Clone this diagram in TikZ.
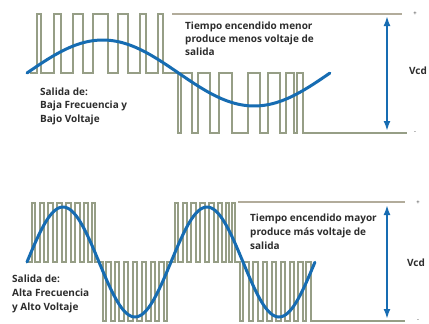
\documentclass[tikz,border=0pt]{standalone}
\usepackage{fontspec}
\setmainfont{Open Sans}
\usetikzlibrary{arrows.meta}
\definecolor{pwm}{RGB}{150,158,134}
\definecolor{rail}{RGB}{178,172,155}
\definecolor{wave}{RGB}{22,108,178}
\definecolor{txt}{RGB}{45,45,45}
\begin{document}
\begin{tikzpicture}[x=1pt,y=-1pt,
  pwmline/.style={draw=pwm, line width=1.4pt, line join=miter},
  railline/.style={draw=rail, line width=1.4pt},
  sine/.style={draw=wave, line width=3pt, line cap=round},
  vcdarrow/.style={draw=wave, line width=2pt, {Latex[length=10pt,width=7pt]}-{Latex[length=10pt,width=7pt]}},
  lbl/.style={font=\fontsize{10}{13}\selectfont\bfseries, text=txt, align=left, inner sep=0pt, anchor=base west},
  sign/.style={font=\fontsize{6}{6}\selectfont, text=txt, inner sep=0pt}]
\useasboundingbox (0,0) rectangle (429,324);
\fill[white] (0,0) rectangle (429,324);

% ---------- top diagram ----------
\draw[pwmline] (30,73)
  \foreach \a/\b in {37/41,54/61,73/83,93/108,118/128,140/146,158/163}
    { -- (\a,73) -- (\a,14) -- (\b,14) -- (\b,73) }
  \foreach \a/\b in {178/181,192/198,210/219,232/248,260/268,280/286,294/297}
    { -- (\a,73) -- (\a,133) -- (\b,133) -- (\b,73) }
  -- (303,73) -- (303,133) -- (407,133);
\draw[railline] (172,14) -- (402,14);
\draw[sine] plot[domain=0:1, samples=90] ({27+303*\x},{73-33*sin(360*\x)});
\coordinate (t1) at (387,16);
\coordinate (b1) at (387,131);
\draw[vcdarrow] (t1) -- (b1);
\node[sign] (p1) at (415,14) {+};
\node[sign] (m1) at (415,133) {-};
\node[font=\fontsize{10}{10}\selectfont\bfseries, text=txt, inner sep=0pt] (v1) at (418,71) {Vcd};
\node[lbl] (tx1) at (185,55) {Tiempo encendido menor\\produce menos voltaje de\\salida};
\node[lbl, font=\fontsize{10}{13.5}\selectfont\bfseries] (sx1) at (40,122) {Salida de:\\Baja Frecuencia y\\Bajo Voltaje};

% ---------- bottom diagram ----------
\draw[pwmline] (28,262)
  \foreach \a/\b in {32/35,40/44,48/53,57/62,66/71,75/80,84/88,92/95}
    { -- (\a,262) -- (\a,203) -- (\b,203) -- (\b,262) }
  \foreach \a/\b in {103/106,111/115,119/124,128/133,137/142,146/151,155/159,164/167}
    { -- (\a,262) -- (\a,321) -- (\b,321) -- (\b,262) }
  \foreach \a/\b in {175/178,183/187,191/196,200/205,209/214,218/222,226/229}
    { -- (\a,262) -- (\a,203) -- (\b,203) -- (\b,262) }
  -- (232,262) -- (232,203) -- (235,203) -- (235,262)
  \foreach \a/\b in {240/243,249/253,258/263,267/272,276/281,285/290,294/298,303/306}
    { -- (\a,262) -- (\a,321) -- (\b,321) -- (\b,262) }
  -- (311,262) -- (311,321) -- (405,321);
\draw[railline] (238,202) -- (405,202);
\draw[sine] plot[domain=0:2, samples=160] ({27+144*\x},{262-55*sin(360*\x)});
\coordinate (t2) at (387,205);
\coordinate (b2) at (387,319);
\draw[vcdarrow] (t2) -- (b2);
\node[sign] (p2) at (418,203) {+};
\node[sign] (m2) at (418,321) {-};
\node[font=\fontsize{10}{10}\selectfont\bfseries, text=txt, inner sep=0pt] (v2) at (416,263) {Vcd};
\node[lbl, font=\fontsize{10}{14}\selectfont\bfseries] (tx2) at (250,249) {Tiempo encendido mayor\\produce más voltaje de\\salida};
\node[lbl, font=\fontsize{10}{14}\selectfont\bfseries] (sx2) at (12,310) {Salida de:\\Alta Frecuencia\\y Alto Voltaje};
\end{tikzpicture}
\end{document}
